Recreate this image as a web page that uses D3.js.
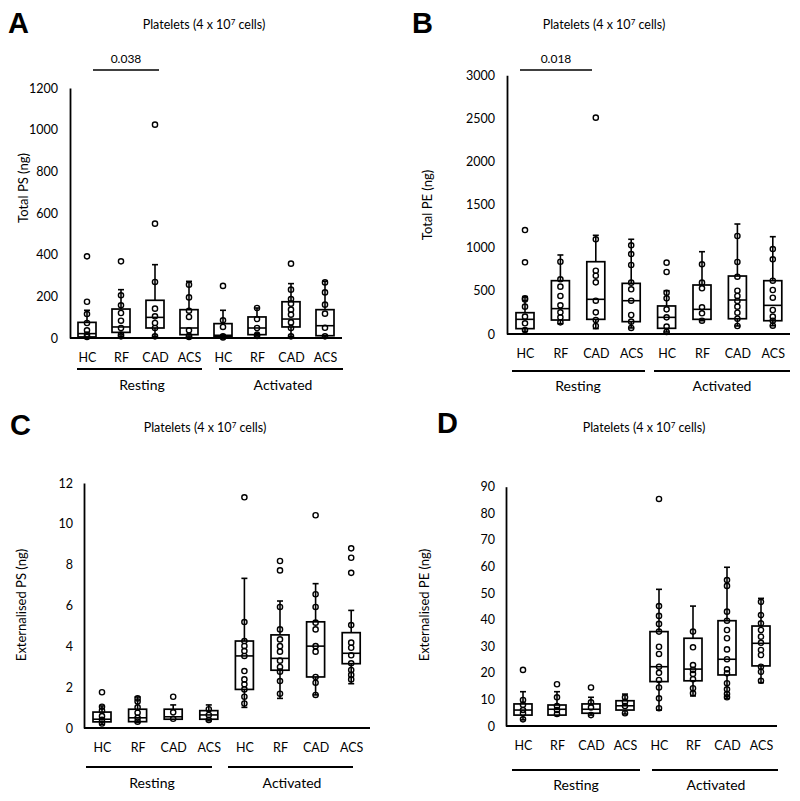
<!DOCTYPE html>
<html><head><meta charset="utf-8">
<script src="https://cdn.jsdelivr.net/npm/d3@7"></script>
<style>
body{margin:0;background:#fff}
svg{display:block}
text{font-family:Lato,"Open Sans",sans-serif;fill:#000}
</style></head>
<body><svg id="chart" width="800" height="801"></svg>
<script>
// ---------- data ----------
const categories = ["HC","RF","CAD","ACS","HC","RF","CAD","ACS"];
const groups = ["Resting","Activated"];
const panelLetters = ["A","B","C","D"];
const yTitles = ["Total PS (ng)","Total PE (ng)","Externalised PS (ng)","Externalised PE (ng)"];
const ticksA = [0,200,400,600,800,1000,1200];
const ticksB = [0,500,1000,1500,2000,2500,3000];
const ticksC = [0,2,4,6,8,10,12];
const ticksD = [0,10,20,30,40,50,60,70,80,90];
const sigA = {from:0, to:2, label:"0.038"};
const sigB = {from:0, to:2, label:"0.018"};

// points per box (Resting HC,RF,CAD,ACS, Activated HC,RF,CAD,ACS)
const totalPSPoints = [
  [392,174,115,72,37,16,5],
  [368,205,157,120,83,48,16,8],
  [1024,549,269,141,104,72,48,8],
  [256,195,131,101,37,11,5],
  [250,85,53,8,3],
  [144,91,48,16,10],
  [357,232,187,165,136,112,75,48,8],
  [267,219,160,117,49,8]
];
// [lower whisker, Q1, median, Q3, upper whisker]
const totalPSStats = [
  [3,5,21,75,133],
  [8,27,53,139,232],
  [8,48,99,181,352],
  [5,16,48,136,272],
  [3,8,13,69,133],
  [10,16,48,101,144],
  [8,53,91,174,261],
  [5,11,59,136,272]
];
const totalPEPoints = [
  [1205,831,414,400,317,201,124,46],
  [838,634,549,441,332,251,193,135],
  [2508,1098,734,676,599,386,251,162,93],
  [1028,927,800,595,518,386,220,143,70],
  [827,719,479,413,286,193,85,23],
  [808,595,530,309,240,154],
  [1136,835,664,502,441,383,317,247,177,93],
  [985,866,618,510,421,278,201,154,96]
];
const totalPEStats = [
  [30,62,170,247,433],
  [120,162,294,618,916],
  [62,170,402,838,1144],
  [70,143,386,587,1098],
  [23,66,193,325,502],
  [154,170,286,568,954],
  [93,177,394,672,1275],
  [96,154,332,618,1128]
];
const extPSPoints = [
  [1.75,1.04,0.85,0.58,0.4,0.22],
  [1.45,1.3,1.01,0.75,0.5,0.31],
  [1.53,0.77,0.45],
  [0.92,0.64,0.39],
  [11.3,5.19,4.26,4.02,3.77,3.53,2.79,2.38,2.14,1.89,1.53,1.2],
  [8.18,7.72,5.93,4.83,4.34,4.01,3.74,3.3,2.99,2.76,2.3,1.68],
  [10.42,6.55,5.93,5.16,4.83,4.01,3.74,2.5,2.22,1.62],
  [8.8,8.34,7.6,5.04,4.18,3.93,3.56,3.17,2.84,2.6,2.38]
];
const extPSStats = [
  [0.18,0.3,0.43,0.78,1.08],
  [0.28,0.31,0.5,0.92,1.52],
  [0.43,0.43,0.55,0.92,1.13],
  [0.35,0.43,0.64,0.85,1.13],
  [1.01,1.89,3.53,4.26,7.33],
  [1.45,2.83,3.41,4.56,6.22],
  [1.62,2.5,4.01,5.2,7.07],
  [2.17,3.15,3.66,4.67,5.76]
];
const extPEPoints = [
  [21.1,9.8,8,6,4.8,2.5],
  [15.7,10.8,7.5,6,4.5],
  [14.5,8.9,7,4.1],
  [10.8,9.1,7.5,4.8],
  [85.4,45.1,41.4,38.4,35.5,29.8,27.1,22.3,20.0,17.3,14.5,10.4,6.7],
  [35.5,29.6,22.9,21.1,19.6,17.6,14.2,12.3],
  [54.9,52.7,43.0,39.6,36.1,33.0,28.8,25.1,21.3,19.8,16.1,13.8,12.0,10.8],
  [46.7,41.7,38.6,36.1,33.6,31.3,28.6,26.7,22.3,20.4,17.0]
];
const extPEStats = [
  [2.3,4.1,6.0,8.3,12.9],
  [4.0,4.1,6.3,7.9,12.9],
  [4.1,4.8,6.3,8.3,10.8],
  [4.5,6.0,7.6,9.5,12.0],
  [6.0,16.7,22.3,35.5,51.4],
  [11.3,17.0,21.4,33.0,45.1],
  [10.4,19.2,25.1,39.6,59.7],
  [16.3,22.6,31.1,37.6,48.0]
];

// ---------- layout ----------
const panels = [
  {letter:panelLetters[0], lx:8, ly:33, tx:204, ty:29, yTitle:yTitles[0], ytx:28, yty:188,
   ax:70, y0:338, yTop:88, ticks:ticksA, x0:87, dx:34, xEnd:342, tickPad:12,
   gLineY:369, rest:[77,202], act:[219,343], gLabelY:390, restLX:142, actLX:283,
   sig:sigA, sigY:70, sigX:[93,159], points:totalPSPoints, stats:totalPSStats},
  {letter:panelLetters[1], lx:412, ly:33, tx:604, ty:29, yTitle:yTitles[1], ytx:432, yty:205,
   ax:507, y0:334, yTop:75.2, ticks:ticksB, x0:525, dx:35.4, xEnd:790, tickPad:12,
   gLineY:371, rest:[512,645], act:[654,790], gLabelY:391, restLX:578, actLX:722,
   sig:sigB, sigY:70, sigX:[520,592], points:totalPEPoints, stats:totalPEStats},
  {letter:panelLetters[2], lx:10, ly:435, tx:205, ty:432, yTitle:yTitles[2], ytx:26, yty:605,
   ax:84, y0:728, yTop:483, ticks:ticksC, x0:102, dx:35.6, xEnd:370, tickPad:11,
   gLineY:767, rest:[86,212], act:[228,353], gLabelY:788, restLX:152, actLX:292,
   sig:null, points:extPSPoints, stats:extPSStats},
  {letter:panelLetters[3], lx:437, ly:433, tx:644, ty:432, yTitle:yTitles[3], ytx:429, yty:605,
   ax:506, y0:726, yTop:486.7, ticks:ticksD, x0:523, dx:34, xEnd:777, tickPad:11,
   gLineY:770, rest:[512,640], act:[652,778], gLabelY:790, restLX:576, actLX:716,
   sig:null, points:extPEPoints, stats:extPEStats}
];

const svg = d3.select("#chart");
const BOXW = 18, CAPW = 6, R = 2.6;

panels.forEach(p => {
  const g = svg.append("g");
  const y = d3.scaleLinear().domain([0, d3.max(p.ticks)]).range([p.y0, p.yTop]);
  const x = d3.scaleLinear().domain([0, 7]).range([p.x0, p.x0 + 7 * p.dx]);

  // panel letter
  g.append("text").attr("x", p.lx).attr("y", p.ly)
    .style("font-family", "'Liberation Sans',Arial,sans-serif")
    .style("font-weight", "bold").style("font-size", "29px").text(p.letter);

  // title with superscript
  const t = g.append("text").attr("x", p.tx).attr("y", p.ty).attr("text-anchor", "middle")
    .style("font-size", "12.5px");
  t.append("tspan").text("Platelets (4 x 10");
  t.append("tspan").attr("dy", -4.5).style("font-size", "8px").text("7");
  t.append("tspan").attr("dy", 4.5).text(" cells)");

  // y title
  g.append("text").attr("transform", `translate(${p.ytx},${p.yty}) rotate(-90)`)
    .attr("text-anchor", "middle").style("font-size", "13px").text(p.yTitle);

  // y axis
  const yAxis = g.append("g").attr("transform", `translate(${p.ax},0)`)
    .call(d3.axisLeft(y).tickValues(p.ticks).tickFormat(d3.format("d"))
      .tickSize(0).tickSizeOuter(0).tickPadding(p.tickPad));
  yAxis.select(".domain").attr("stroke", "#000").attr("stroke-width", 1.8);
  yAxis.selectAll("text").style("font-size", "12.5px").style("font-family", "Lato,sans-serif").attr("fill", "#000");

  // x axis baseline
  g.append("line").attr("x1", p.ax).attr("x2", p.xEnd).attr("y1", p.y0).attr("y2", p.y0)
    .attr("stroke", "#000").attr("stroke-width", 1.8);

  // category labels through an axis
  const xAxis = g.append("g").attr("transform", `translate(0,${p.y0})`)
    .call(d3.axisBottom(x).tickValues(d3.range(8)).tickFormat(i => categories[i]).tickSize(0).tickPadding(15));
  xAxis.select(".domain").remove();
  xAxis.selectAll("text").style("font-size", "12.5px").style("font-family", "Lato,sans-serif").attr("fill", "#000");

  // group lines and labels
  [p.rest, p.act].forEach((r, gi) => {
    g.append("line").attr("x1", r[0]).attr("x2", r[1]).attr("y1", p.gLineY).attr("y2", p.gLineY)
      .attr("stroke", "#000").attr("stroke-width", 1.8);
    g.append("text").attr("x", gi === 0 ? p.restLX : p.actLX).attr("y", p.gLabelY)
      .attr("text-anchor", "middle").style("font-size", "14px").text(groups[gi]);
  });

  // significance
  if (p.sig) {
    g.append("line").attr("x1", p.sigX[0]).attr("x2", p.sigX[1]).attr("y1", p.sigY).attr("y2", p.sigY)
      .attr("stroke", "#000").attr("stroke-width", 1.6);
    g.append("text").attr("x", (p.sigX[0] + p.sigX[1]) / 2).attr("y", p.sigY - 7)
      .attr("text-anchor", "middle").style("font-size", "12px").text(p.sig.label);
  }

  // boxes
  p.stats.forEach((s, i) => {
    const cx = x(i);
    const [lo, q1, md, q3, hi] = s;
    const bg = g.append("g").attr("stroke", "#000").attr("fill", "none");
    bg.append("line").attr("x1", cx).attr("x2", cx).attr("y1", y(q3)).attr("y2", y(hi)).attr("stroke-width", 1.6);
    bg.append("line").attr("x1", cx).attr("x2", cx).attr("y1", y(q1)).attr("y2", y(lo)).attr("stroke-width", 1.6);
    bg.append("line").attr("x1", cx - CAPW / 2).attr("x2", cx + CAPW / 2).attr("y1", y(hi)).attr("y2", y(hi)).attr("stroke-width", 1.6);
    bg.append("line").attr("x1", cx - CAPW / 2).attr("x2", cx + CAPW / 2).attr("y1", y(lo)).attr("y2", y(lo)).attr("stroke-width", 1.6);
    bg.append("rect").attr("x", cx - BOXW / 2).attr("width", BOXW)
      .attr("y", y(q3)).attr("height", Math.max(0, y(q1) - y(q3))).attr("fill", "#fff").attr("stroke-width", 1.7);
    bg.append("line").attr("x1", cx - BOXW / 2).attr("x2", cx + BOXW / 2).attr("y1", y(md)).attr("y2", y(md)).attr("stroke-width", 1.6);
    bg.selectAll("circle").data(p.points[i]).join("circle")
      .attr("cx", cx).attr("cy", d => y(d)).attr("r", R).attr("fill", "none").attr("stroke-width", 1.4);
  });
});
</script></body></html>
